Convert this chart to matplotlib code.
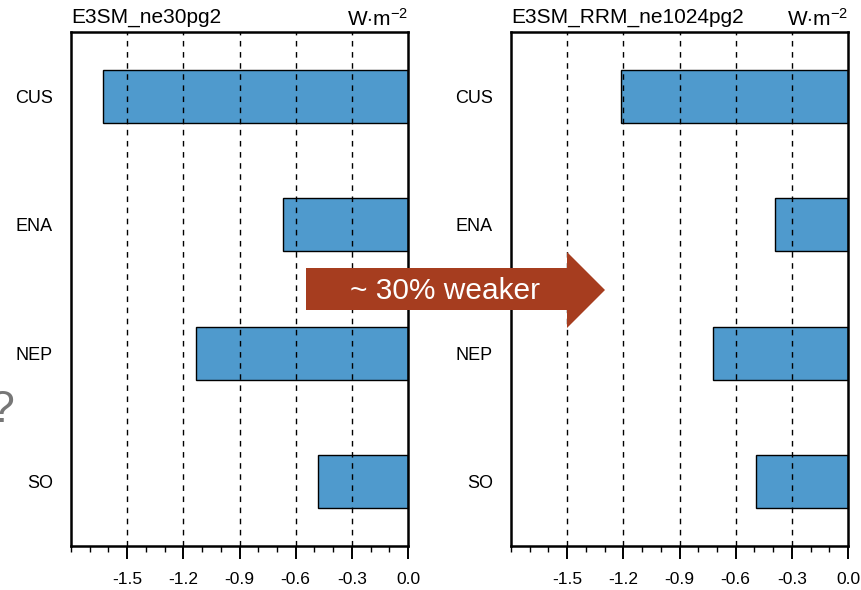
import matplotlib.pyplot as plt
import numpy as np
from matplotlib.patches import Polygon
from matplotlib.ticker import MultipleLocator

plt.rcParams['font.family'] = ['Liberation Sans', 'DejaVu Sans']
plt.rcParams['mathtext.fontset'] = 'custom'
plt.rcParams['mathtext.rm'] = 'Liberation Sans'
plt.rcParams['mathtext.it'] = 'Liberation Sans'

regions = ['CUS', 'ENA', 'NEP', 'SO']
ne30 = [-1.63, -0.665, -1.13, -0.48]
rrm = [-1.21, -0.39, -0.72, -0.49]
titles = ['E3SM_ne30pg2', 'E3SM_RRM_ne1024pg2']
xticks = [-1.5, -1.2, -0.9, -0.6, -0.3, 0.0]

W, H = 861, 590
fig = plt.figure(figsize=(W / 100, H / 100), dpi=100)

bar_col = '#4f9acd'
ypos = np.arange(len(regions))[::-1]

def px(x, y):
    return (x / W, (H - y) / H)

for i, (vals, tt) in enumerate(zip([ne30, rrm], titles)):
    x0 = [71, 511][i]
    ax = fig.add_axes([x0 / W, 44 / H, 337 / W, 514 / H])
    ax.barh(ypos, vals, height=0.41, color=bar_col, edgecolor='black',
            linewidth=1.0, zorder=2)
    for t in xticks[:-1]:
        ax.axvline(t, color='black', ls=(0, (4, 4)), lw=1.0, zorder=3)
    ax.set_xlim(-1.8, 0.0)
    ax.set_ylim(-0.5, 3.5)
    ax.set_xticks(xticks)
    ax.set_xticklabels(['%.1f' % t for t in xticks])
    ax.xaxis.set_minor_locator(MultipleLocator(0.1))
    ax.set_yticks(ypos)
    ax.set_yticklabels(regions)
    ax.tick_params(axis='x', which='major', length=9, width=1.4,
                   labelsize=12.5, pad=10)
    ax.tick_params(axis='x', which='minor', length=4.5, width=1.0)
    ax.tick_params(axis='y', length=0, labelsize=13, pad=13)
    for s in ax.spines.values():
        s.set_linewidth(1.8)
    ax.text(0.0, 1.01, tt, transform=ax.transAxes, ha='left', va='bottom',
            fontsize=15)
    ax.text(1.0, 1.004, r'W$\cdot$m$^{-2}$', transform=ax.transAxes,
            ha='right', va='bottom', fontsize=15)

# arrow between the panels
pts = [(306, 268), (567, 268), (567, 252), (605, 290),
       (567, 328), (567, 310), (306, 310)]
arrow = Polygon([px(x, y) for x, y in pts], closed=True,
                transform=fig.transFigure, facecolor='#a63d1f',
                edgecolor='none', zorder=5)
fig.patches.append(arrow)
fig.text(*px(445, 291), '~ 30% weaker', color='white', fontsize=21.5,
         ha='center', va='center', zorder=6)

fig.text(*px(2, 410), '?', color='#777777', fontsize=32,
         ha='center', va='center')

fig.savefig('out.png', dpi=100)
